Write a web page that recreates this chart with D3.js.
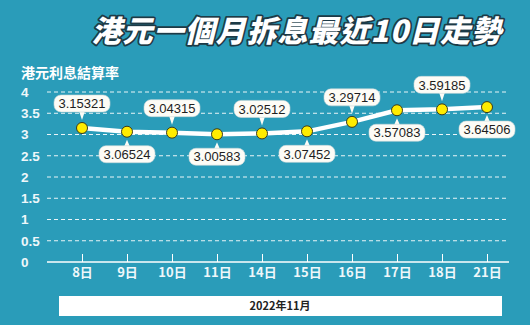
<!DOCTYPE html>
<html>
<head>
<meta charset="utf-8">
<script src="https://cdn.jsdelivr.net/npm/d3@7"></script>
<style>
  html, body { margin: 0; padding: 0; background: #2a9cb9; }
  svg { display: block; }
</style>
</head>
<body>
<svg id="chart" width="530" height="325"></svg>
<script>
// HIBOR 1-month settlement rates, November 2022
const days = ["8日", "9日", "10日", "11日", "14日", "15日", "16日", "17日", "18日", "21日"];
const rates = [3.15321, 3.06524, 3.04315, 3.00583, 3.02512, 3.07452, 3.29714, 3.57083, 3.59185, 3.64506];
const yTicks = [0, 0.5, 1, 1.5, 2, 2.5, 3, 3.5, 4];
const yTickLabels = ["0", "0.5", "1", "1.5", "2", "2.5", "3", "3.5", "4"];
const titleText = "港元一個月拆息最近10日走勢";
const yTitle = "港元利息結算率";
const monthLabel = "2022年11月";

const svg = d3.select("#chart");
const W = 530, H = 325;
const font = "'Liberation Sans', Arial, 'Noto Sans CJK TC', sans-serif";

svg.append("rect").attr("width", W).attr("height", H).attr("fill", "#2a9cb9");

const axisLeft = 47, axisRight = 509;
const x = d3.scalePoint().domain(days).range([82, 487]);
const y = d3.scaleLinear().domain([0, 4]).range([262, 92]);

// Title with dark outline
svg.append("text")
  .attr("x", 502).attr("y", 42)
  .attr("text-anchor", "end")
  .attr("font-family", "'Noto Sans CJK TC', sans-serif")
  .attr("font-weight", 900)
  .attr("font-style", "italic")
  .attr("font-size", 30)
  .attr("letter-spacing", 1)
  .attr("fill", "#ffffff")
  .attr("stroke", "#1d3a46")
  .attr("stroke-width", 3.5)
  .attr("stroke-linejoin", "round")
  .attr("paint-order", "stroke")
  .text(titleText);

// Y axis title
svg.append("text")
  .attr("x", 21).attr("y", 78)
  .attr("font-family", "'Noto Sans CJK TC', sans-serif")
  .attr("font-weight", 700)
  .attr("font-size", 14)
  .attr("fill", "#ffffff")
  .text(yTitle);

// Dashed gridlines
svg.append("g").selectAll("line")
  .data(yTicks.filter(d => d > 0))
  .join("line")
  .attr("x1", axisLeft).attr("x2", axisRight)
  .attr("y1", d => y(d)).attr("y2", d => y(d))
  .attr("stroke", "#ffffff")
  .attr("stroke-width", 1)
  .attr("stroke-dasharray", "4,3")
  .attr("opacity", 0.9);

// Y tick labels
svg.append("g").selectAll("text")
  .data(yTicks)
  .join("text")
  .attr("x", 21)
  .attr("y", d => y(d))
  .attr("dy", "0.36em")
  .attr("font-family", font)
  .attr("font-weight", 700)
  .attr("font-size", 13.5)
  .attr("fill", "#eef7fa")
  .text((d, i) => yTickLabels[i]);

// X axis baseline, ticks and labels
const xAxis = d3.axisBottom(x).tickSize(-8).tickPadding(6);
const gx = svg.append("g").attr("transform", `translate(0,${y(0)})`).call(xAxis);
gx.select(".domain").remove();
gx.selectAll(".tick line").attr("stroke", "#ffffff").attr("stroke-width", 1);
gx.selectAll(".tick text")
  .attr("fill", "#eef7fa")
  .attr("font-family", "'Noto Sans CJK TC', sans-serif")
  .attr("font-weight", 700)
  .attr("font-size", 13);
svg.append("line")
  .attr("x1", axisLeft).attr("x2", axisRight)
  .attr("y1", y(0)).attr("y2", y(0))
  .attr("stroke", "#ffffff").attr("stroke-width", 1.5);

// Rate line
const line = d3.line().x((d, i) => x(days[i])).y(d => y(d));
svg.append("path")
  .datum(rates)
  .attr("d", line)
  .attr("fill", "none")
  .attr("stroke", "#ffffff")
  .attr("stroke-width", 4.5)
  .attr("stroke-linejoin", "round");

// Value callouts, alternating above / below
const labels = svg.append("g");
rates.forEach((v, i) => {
  const cx = x(days[i]), cy = y(v);
  const above = i % 2 === 0;
  const txt = v.toFixed(5);
  const bw = 56, bh = 17;
  const by = above ? cy - 33 : cy + 14;
  const g = labels.append("g");
  // pointer
  const tipY = above ? cy - 8 : cy + 8;
  const baseY = above ? by + bh - 1 : by + 1;
  g.append("path")
    .attr("d", `M${cx - 3},${baseY}L${cx},${tipY}L${cx + 3},${baseY}Z`)
    .attr("fill", "#fdfcf6");
  g.append("rect")
    .attr("x", cx - bw / 2).attr("y", by)
    .attr("width", bw).attr("height", bh)
    .attr("rx", 7)
    .attr("fill", "#fdfcf6")
    .attr("stroke", "#c9d6d8").attr("stroke-width", 0.6);
  g.append("text")
    .attr("x", cx).attr("y", by + bh / 2)
    .attr("dy", "0.36em")
    .attr("text-anchor", "middle")
    .attr("font-family", font)
    .attr("font-size", 13)
    .attr("fill", "#1e1e1e")
    .text(txt);
});

// Points
svg.append("g").selectAll("circle")
  .data(rates)
  .join("circle")
  .attr("cx", (d, i) => x(days[i]))
  .attr("cy", d => y(d))
  .attr("r", 5.5)
  .attr("fill", "#ffec00")
  .attr("stroke", "#3a3a1a")
  .attr("stroke-width", 1);

// Month band
svg.append("rect")
  .attr("x", 59).attr("y", 296)
  .attr("width", 443).attr("height", 20)
  .attr("fill", "#ffffff");
svg.append("text")
  .attr("x", 280).attr("y", 306)
  .attr("dy", "0.36em")
  .attr("text-anchor", "middle")
  .attr("font-family", "'Noto Sans CJK TC', sans-serif")
  .attr("font-weight", 700)
  .attr("font-size", 11)
  .attr("fill", "#222222")
  .text(monthLabel);
</script>
</body>
</html>
